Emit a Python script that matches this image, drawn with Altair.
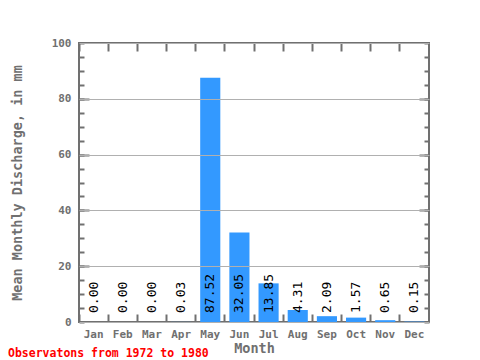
import altair as alt
import pandas as pd

months = ["Jan", "Feb", "Mar", "Apr", "May", "Jun", "Jul", "Aug", "Sep", "Oct", "Nov", "Dec"]
discharge = [0.00, 0.00, 0.00, 0.03, 87.52, 32.05, 13.85, 4.31, 2.09, 1.57, 0.65, 0.15]
labels = ["0.00", "0.00", "0.00", "0.03", "87.52", "32.05", "13.85", "4.31", "2.09", "1.57", "0.65", "0.15"]
y_ticks = [0, 20, 40, 60, 80, 100]
minor_ticks = list(range(0, 101, 5))
major_inner = [20, 40, 60, 80]
note = "Observatons from 1972 to 1980"

df = pd.DataFrame({"Month": months, "Discharge": discharge, "Label": labels})

GRAY = "#707070"
FONT = "DejaVu Sans Mono"

xscale = alt.Scale(domain=months, paddingInner=0, paddingOuter=0)
yscale = alt.Scale(domain=[0, 100], nice=False)

base = alt.Chart(df)

bars = base.mark_bar(color="#3399ff", width=alt.RelativeBandSize(0.69)).encode(
    x=alt.X("Month:N", scale=xscale, sort=months,
            axis=alt.Axis(title="Month", orient="bottom", ticks=False, tickSize=0, domain=False,
                          labelAngle=0, labelPadding=6, titlePadding=2)),
    y=alt.Y("Discharge:Q", scale=yscale,
            axis=alt.Axis(title="Mean Monthly Discharge, in mm", orient="left", values=y_ticks,
                          ticks=False, tickSize=0, domain=False, grid=True, gridColor="#b0b0b0",
                          gridWidth=1, labelPadding=8, titlePadding=27, zindex=1)),
)

text = base.mark_text(angle=270, align="left", baseline="middle", dx=9, font=FONT,
                      fontSize=13, color="black").encode(
    x=alt.X("Month:N", scale=xscale, sort=months, axis=None),
    y=alt.YDatum(0, scale=yscale, axis=None),
    text="Label:N",
)

def tick_axis_x(orient):
    return alt.Axis(orient=orient, offset=-8, tickSize=8, bandPosition=0, labels=False,
                    domain=False, title=None, tickColor=GRAY, tickWidth=2, grid=False)

def tick_axis_y(orient, size, vals):
    return alt.Axis(orient=orient, offset=-size, tickSize=size, values=vals, labels=False,
                    domain=False, title=None, tickColor=GRAY, tickWidth=2, grid=False)

t1 = base.mark_point(opacity=0).encode(
    x=alt.X("Month:N", scale=xscale, sort=months, axis=tick_axis_x("top")),
    y=alt.Y("Discharge:Q", scale=yscale, axis=tick_axis_y("left", 5, minor_ticks)),
)
t2 = base.mark_point(opacity=0).encode(
    x=alt.X("Month:N", scale=xscale, sort=months, axis=tick_axis_x("bottom")),
    y=alt.Y("Discharge:Q", scale=yscale, axis=tick_axis_y("right", 5, minor_ticks)),
)
t3 = base.mark_point(opacity=0).encode(
    x=alt.X("Month:N", scale=xscale, sort=months, axis=None),
    y=alt.Y("Discharge:Q", scale=yscale, axis=tick_axis_y("left", 10, major_inner)),
)
t4 = base.mark_point(opacity=0).encode(
    x=alt.X("Month:N", scale=xscale, sort=months, axis=None),
    y=alt.Y("Discharge:Q", scale=yscale, axis=tick_axis_y("right", 10, major_inner)),
)

chart = alt.layer(bars, text, t1, t2, t3, t4).resolve_axis(
    x="independent", y="independent"
).properties(
    width=350,
    height=279,
    autosize=alt.AutoSizeParams(type="none"),
    padding={"left": 71, "top": 35, "right": 43, "bottom": 37},
    title=alt.TitleParams(note, orient="bottom", anchor="start", frame="group", color="red",
                          font=FONT, fontSize=11.5, fontWeight="bold", dx=-71, offset=-7),
).configure_view(
    stroke=GRAY, strokeWidth=2
).configure_axis(
    labelFont=FONT, labelColor=GRAY, labelFontSize=11, labelFontWeight="bold",
    titleFont=FONT, titleColor=GRAY, titleFontSize=13.5, titleFontWeight="bold",
)

chart.save("out.html", embed_options={"renderer": "svg", "actions": False})
